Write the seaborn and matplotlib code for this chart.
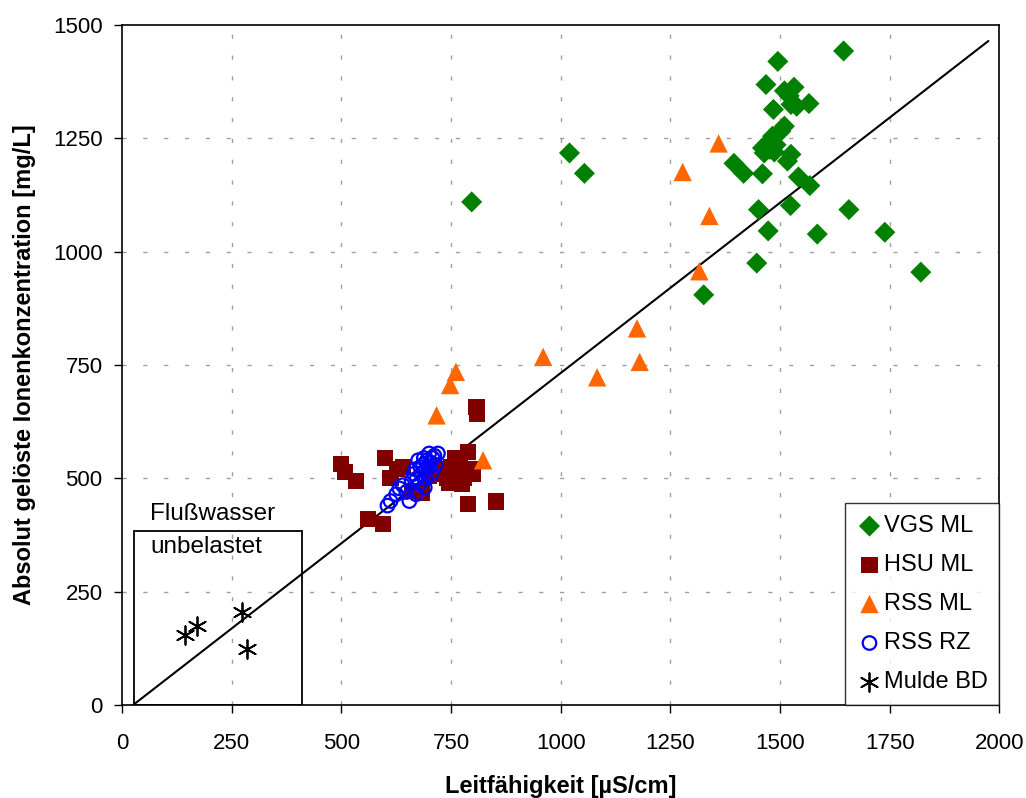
import matplotlib
matplotlib.use("Agg")
import matplotlib.pyplot as plt
import seaborn as sns
import pandas as pd
from matplotlib.patches import Rectangle

# ---- data ----
vgs_x = [797, 1020, 1054, 1326, 1395, 1417, 1447, 1451, 1460, 1460, 1464, 1468, 1472, 1473,
         1476, 1483, 1485, 1487, 1491, 1495, 1502, 1510, 1510, 1517, 1521, 1524, 1525, 1525,
         1532, 1538, 1542, 1566, 1568, 1585, 1645, 1657, 1739, 1821]
vgs_y = [1110, 1218, 1173, 905, 1195, 1173, 975, 1093, 1172, 1229, 1218, 1369, 1240, 1046,
         1226, 1255, 1314, 1220, 1236, 1420, 1266, 1277, 1355, 1200, 1344, 1102, 1215, 1325,
         1363, 1321, 1165, 1327, 1146, 1039, 1443, 1093, 1043, 955]

hsu_x = [500, 509, 534, 560, 595, 600, 612, 627, 640, 661, 683, 700, 715, 729, 740, 750,
         759, 765, 767, 774, 780, 789, 795, 800, 788, 808, 810, 852, 770, 745]
hsu_y = [532, 514, 494, 410, 400, 545, 500, 521, 525, 473, 467, 505, 520, 510, 500, 525,
         544, 530, 514, 488, 500, 558, 520, 510, 443, 658, 643, 449, 540, 490]

rssml_x = [1360, 1278, 1339, 1316, 1174, 1180, 1083, 960, 761, 748, 717, 823]
rssml_y = [1239, 1176, 1079, 957, 831, 757, 723, 768, 735, 706, 639, 540]

rssrz_x = [605, 612, 625, 632, 640, 648, 655, 660, 665, 668, 672, 675, 678, 680, 683,
           686, 688, 690, 692, 695, 698, 700, 703, 705, 708, 712, 715, 720, 690, 670]
rssrz_y = [440, 450, 465, 478, 485, 470, 450, 495, 510, 520, 500, 540, 488, 525, 510,
           530, 545, 515, 500, 540, 525, 555, 535, 510, 545, 550, 530, 555, 480, 465]

mulde_x = [144, 170, 273, 284]
mulde_y = [155, 175, 206, 123]

line_x = [25, 1975]
line_y = [0, 1465]

box_x = [27, 411]
box_y = [0, 384]
box_text = "Flußwasser\nunbelastet"

x_ticks = [0, 250, 500, 750, 1000, 1250, 1500, 1750, 2000]
y_ticks = [0, 250, 500, 750, 1000, 1250, 1500]
x_label = "Leitfähigkeit [µS/cm]"
y_label = "Absolut gelöste Ionenkonzentration [mg/L]"

# ---- style ----
sns.set_style("white")
plt.rcParams['font.family'] = ['Liberation Sans', 'DejaVu Sans']
plt.rcParams['font.size'] = 14
plt.rcParams['text.color'] = 'black'

fig = plt.figure(figsize=(10.26, 7.98), dpi=100)
ax = fig.add_axes([0.119, 0.1165, 0.855, 0.852])

for xv in x_ticks[1:-1]:
    ax.axvline(xv, color='#a0a0a0', lw=1, ls=(0, (3, 12)), zorder=0)
for yv in y_ticks[1:-1]:
    ax.axhline(yv, color='#a0a0a0', lw=1, ls=(0, (3, 12)), zorder=0)

ax.plot(line_x, line_y, color='black', lw=1.5, zorder=2)

ax.add_patch(Rectangle((box_x[0], box_y[0]), box_x[1] - box_x[0], box_y[1] - box_y[0],
                       fill=False, edgecolor='black', lw=1.3, zorder=2))
ax.text(box_x[0] + 37, box_y[1] + 1, box_text, fontsize=17.5, va='center', ha='left',
        linespacing=1.6, color='black')

sns.scatterplot(x=vgs_x, y=vgs_y, ax=ax, marker='D', s=115, color='#008000',
                edgecolor='none', label='VGS ML', zorder=3)
sns.scatterplot(x=hsu_x, y=hsu_y, ax=ax, marker='s', s=135, color='#800000',
                edgecolor='none', label='HSU ML', zorder=3)
sns.scatterplot(x=rssml_x, y=rssml_y, ax=ax, marker='^', s=175, color='#FF6600',
                edgecolor='none', label='RSS ML', zorder=3)
sns.scatterplot(x=rssrz_x, y=rssrz_y, ax=ax, marker='o', s=95, facecolor='none',
                edgecolor='#0000FF', linewidth=1.6, label='RSS RZ', zorder=4)
sns.scatterplot(x=mulde_x, y=mulde_y, ax=ax, marker=(6, 2, 0), s=180, color='black',
                linewidth=1.3, label='Mulde BD', zorder=3)

ax.set_xlim(0, 2000)
ax.set_ylim(0, 1500)
ax.set_xticks(x_ticks)
ax.set_yticks(y_ticks)
ax.tick_params(axis='both', direction='out', length=6, width=1, color='black',
               labelsize=16, labelcolor='black', bottom=True, left=True)
ax.tick_params(axis='x', pad=14)
ax.tick_params(axis='y', pad=8)
for sp in ax.spines.values():
    sp.set_color('black')
    sp.set_linewidth(1.2)

ax.set_xlabel(x_label, fontsize=17, fontweight='bold', labelpad=15, color='black')
ax.set_ylabel(y_label, fontsize=17, fontweight='bold', labelpad=12, color='black')

leg = ax.legend(loc='lower right', borderaxespad=0, frameon=True, fancybox=False,
                edgecolor='black', fontsize=17, labelspacing=0.72, handletextpad=0.05,
                handlelength=1.1, borderpad=0.5)
leg.get_frame().set_linewidth(1.0)
for t in leg.get_texts():
    t.set_color('black')

fig.savefig('out.png', dpi=100)
